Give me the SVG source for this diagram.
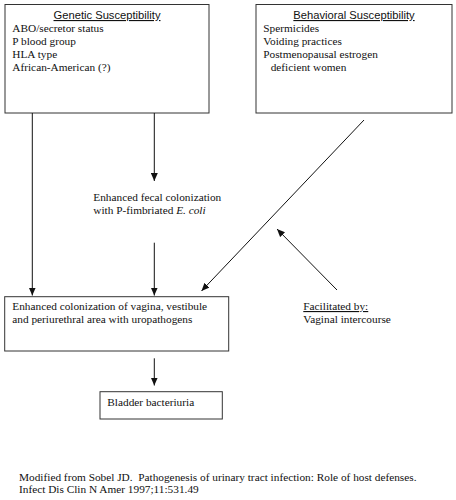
<svg xmlns="http://www.w3.org/2000/svg" width="456" height="500" viewBox="0 0 456 500">
<style>
.box{fill:#fff;stroke:#333;stroke-width:1}
.t{font-family:"Liberation Serif","Times New Roman",serif;font-size:11.3px;fill:#111}
.h{font-family:"Liberation Sans",Arial,sans-serif;font-size:11.2px;fill:#111;text-decoration:underline}
.c{stroke:#111;stroke-width:1;fill:none;marker-end:url(#ah)}
</style>
<defs>
<marker id="ah" markerUnits="userSpaceOnUse" markerWidth="8" markerHeight="7" refX="8" refY="3.5" orient="auto">
<path d="M0,0 L8,3.5 L0,7 z" fill="#111"/>
</marker>
</defs>
<rect width="456" height="500" fill="#fff"/>
<g id="genetic">
<rect class="box" x="5" y="4.5" width="204" height="108.5"/>
<text class="h" x="107" y="19" text-anchor="middle">Genetic Susceptibility</text>
<text class="t" x="12.3" y="31.5">ABO/secretor status</text>
<text class="t" x="12.3" y="44.5">P blood group</text>
<text class="t" x="12.3" y="57.5">HLA type</text>
<text class="t" x="12.3" y="71">African-American (?)</text>
</g>
<g id="behavioral">
<rect class="box" x="256" y="4.5" width="196" height="108.5"/>
<text class="h" x="354" y="19" text-anchor="middle">Behavioral Susceptibility</text>
<text class="t" x="263.3" y="31.5">Spermicides</text>
<text class="t" x="263.3" y="44.5">Voiding practices</text>
<text class="t" x="263.3" y="57.5">Postmenopausal estrogen</text>
<text class="t" x="270.7" y="71">deficient women</text>
</g>
<g id="fecal">
<text class="t" x="93.3" y="201">Enhanced fecal colonization</text>
<text class="t" x="93.3" y="214">with P-fimbriated <tspan font-style="italic">E. coli</tspan></text>
</g>
<g id="facilitated">
<text class="t" x="303.3" y="310" text-decoration="underline">Facilitated by:</text>
<text class="t" x="303.3" y="323">Vaginal intercourse</text>
</g>
<g id="colonization">
<rect class="box" x="4.7" y="296.7" width="224" height="54.3"/>
<text class="t" x="12.3" y="309.5">Enhanced colonization of vagina, vestibule</text>
<text class="t" x="12.3" y="322.7">and periurethral area with uropathogens</text>
</g>
<g id="bladder">
<rect class="box" x="100" y="391.7" width="122.3" height="27.3"/>
<text class="t" x="107.3" y="405.5">Bladder bacteriuria</text>
</g>
<g id="footer">
<text class="t" x="19" y="480.5" xml:space="preserve">Modified from Sobel JD.  Pathogenesis of urinary tract infection: Role of host defenses.</text>
<text class="t" x="19" y="493.3">Infect Dis Clin N Amer 1997;11:531.49</text>
</g>
<g id="connectors">
<line class="c" x1="32.3" y1="113" x2="32.3" y2="295.5"/>
<line class="c" x1="154.3" y1="113" x2="154.3" y2="181"/>
<line class="c" x1="154.3" y1="242.7" x2="154.3" y2="295.5"/>
<line class="c" x1="364" y1="120" x2="201.5" y2="291"/>
<line class="c" x1="337" y1="290" x2="277" y2="229"/>
<line class="c" x1="154.3" y1="358.3" x2="154.3" y2="385.5"/>
</g>
</svg>
